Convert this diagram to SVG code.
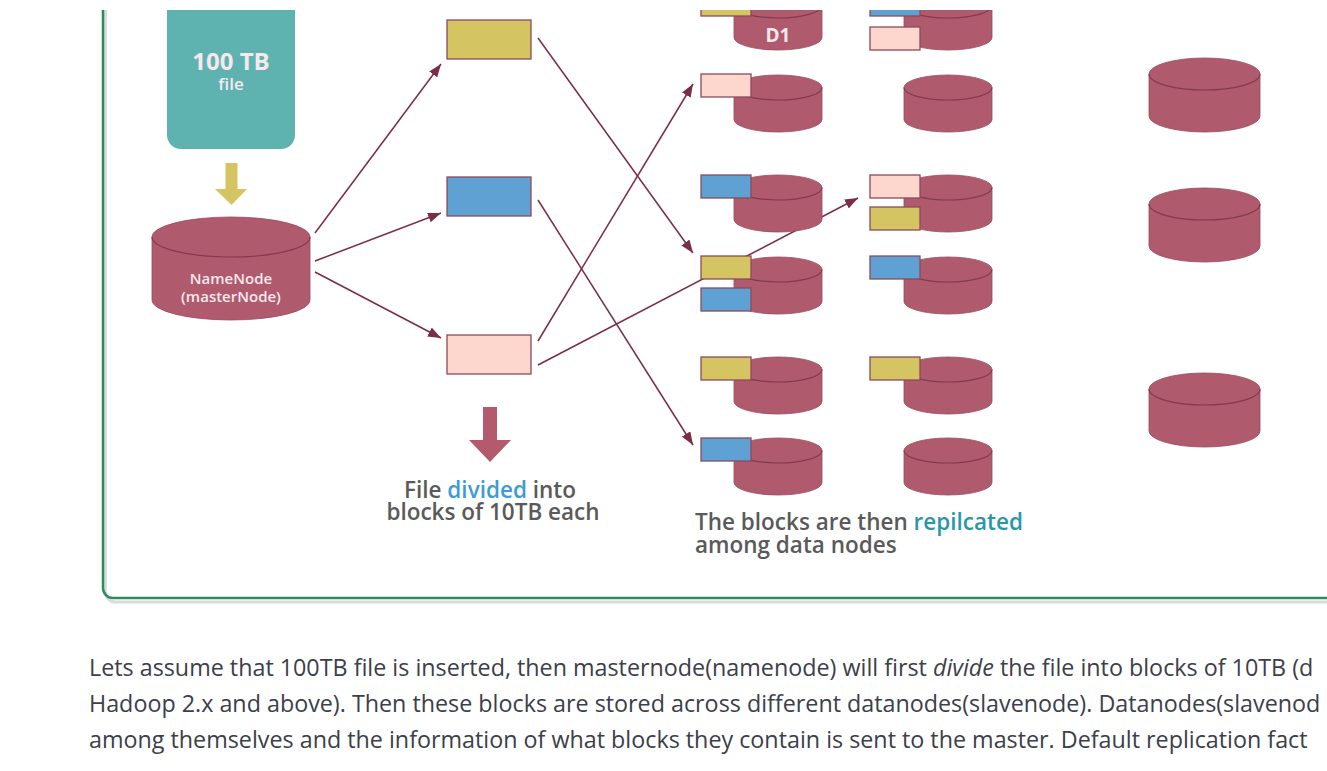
<svg xmlns="http://www.w3.org/2000/svg" width="1327" height="771" viewBox="0 0 1327 771">
<style>
.cyl{fill:#b05a6e;stroke:#9a4a5e;stroke-width:0.8}
.rim{fill:none;stroke:#843a4e;stroke-width:1.2}
.blk{stroke:#8a4b5c;stroke-width:1.3}
.y{fill:#d4c462}.b{fill:#5fa1d2}.p{fill:#fdd6cd}
.con{stroke:#7a2d45;stroke-width:1.5;fill:none;marker-end:url(#ah)}
.cap{font-family:"Open Sans","Noto Sans",sans-serif;font-size:22.5px;font-weight:600;fill:#5a5a5a}
.para{font-family:"Open Sans","Noto Sans",sans-serif;font-size:23.3px;fill:#3b404a}
.wt{font-family:"Open Sans","Noto Sans",sans-serif;fill:#f6e8ec;text-anchor:middle}
</style>
<defs>
<marker id="ah" markerUnits="userSpaceOnUse" markerWidth="13" markerHeight="10" refX="13" refY="5" orient="auto">
<path d="M0,0 L13,5 L0,10 Z" fill="#7a2d45"/>
</marker>
<g id="cylS">
<path class="cyl" d="M-44,0 A44,12.5 0 0 1 44,0 V32 A44,12.5 0 0 1 -44,32 Z"/>
<path class="rim" d="M-44,0 A44,12.5 0 0 0 44,0"/>
</g>
<g id="cylL">
<path class="cyl" d="M-55.5,0 A55.5,16 0 0 1 55.5,0 V42 A55.5,16 0 0 1 -55.5,42 Z"/>
<path class="rim" d="M-55.5,0 A55.5,16 0 0 0 55.5,0"/>
</g>
<clipPath id="clip"><rect x="0" y="10" width="1327" height="620"/></clipPath>
</defs>
<rect width="1327" height="771" fill="#ffffff"/>
<g clip-path="url(#clip)">
<g id="frame">
<rect x="105.5" y="-30" width="1300" height="632" rx="10" fill="none" stroke="#d9dcdc" stroke-width="3"/>
<rect x="103" y="-30" width="1300" height="628" rx="10" fill="none" stroke="#2e8b5c" stroke-width="2.5"/>
</g>
<g id="connectors">
<line class="con" x1="315" y1="233" x2="441" y2="64"/>
<line class="con" x1="315" y1="261" x2="441" y2="213"/>
<line class="con" x1="315" y1="272" x2="441" y2="338"/>
<line class="con" x1="538" y1="38" x2="693" y2="253"/>
<line class="con" x1="538" y1="200" x2="693" y2="445"/>
<line class="con" x1="538" y1="341" x2="693" y2="84"/>
<line class="con" x1="538" y1="365" x2="858" y2="198"/>
</g>
<g id="file">
<path d="M167,0 V135 A14,14 0 0 0 181,149 H281 A14,14 0 0 0 295,135 V0 Z" fill="#5eb3b1"/>
<text class="wt" x="231" y="70" font-size="24" font-weight="700" fill="#ffffff">100 TB</text>
<text class="wt" x="231" y="90" font-size="17" font-weight="600">file</text>
</g>
<g id="file-arrow">
<path d="M225.5,163 H237.5 V189 H247 L231.5,205 L215,189 H225.5 Z" fill="#d4c462"/>
</g>
<g id="namenode">
<path class="cyl" d="M152,237 A79,20 0 0 1 310,237 V300 A79,20 0 0 1 152,300 Z"/>
<path class="rim" d="M152,237 A79,20 0 0 0 310,237"/>
<text class="wt" x="231" y="284" font-size="15" font-weight="600">NameNode</text>
<text class="wt" x="231" y="302" font-size="15" font-weight="600">(masterNode)</text>
</g>
<g id="block-yellow"><rect class="blk y" x="447" y="20" width="84" height="39"/></g>
<g id="block-blue"><rect class="blk b" x="447" y="177" width="84" height="39"/></g>
<g id="block-pink"><rect class="blk p" x="447" y="335" width="84" height="39"/></g>
<g id="divide-arrow">
<path d="M483,407 H497 V440 H511 L490,462 L469,440 H483 Z" fill="#b45a6e"/>
</g>
<g id="D1">
<use href="#cylS" x="778" y="5.5"/>
<text class="wt" x="778" y="42" font-size="19" font-weight="700">D1</text>
<rect class="blk y" x="701" y="-7" width="50" height="23"/>
</g>
<g id="dnA1"><use href="#cylS" x="778" y="87.5"/><rect class="blk p" x="701" y="74" width="50" height="23"/></g>
<g id="dnA2"><use href="#cylS" x="778" y="187.5"/><rect class="blk b" x="701" y="175" width="50" height="23"/></g>
<g id="dnA3"><use href="#cylS" x="778" y="269.5"/><rect class="blk y" x="701" y="256" width="50" height="23"/><rect class="blk b" x="701" y="288" width="50" height="23"/></g>
<g id="dnA4"><use href="#cylS" x="778" y="369.5"/><rect class="blk y" x="701" y="357" width="50" height="23"/></g>
<g id="dnA5"><use href="#cylS" x="778" y="450.5"/><rect class="blk b" x="701" y="438" width="50" height="23"/></g>
<g id="dnB0"><use href="#cylS" x="948" y="5.5"/><rect class="blk b" x="870" y="-7" width="50" height="23"/><rect class="blk p" x="870" y="27" width="50" height="23"/></g>
<g id="dnB1"><use href="#cylS" x="948" y="87.5"/></g>
<g id="dnB2"><use href="#cylS" x="948" y="187.5"/><rect class="blk p" x="870" y="175" width="50" height="23"/><rect class="blk y" x="870" y="207" width="50" height="23"/></g>
<g id="dnB3"><use href="#cylS" x="948" y="269.5"/><rect class="blk b" x="870" y="256" width="50" height="23"/></g>
<g id="dnB4"><use href="#cylS" x="948" y="369.5"/><rect class="blk y" x="870" y="357" width="50" height="23"/></g>
<g id="dnB5"><use href="#cylS" x="948" y="450.5"/></g>
<g id="dnC1"><use href="#cylL" x="1204.5" y="74"/></g>
<g id="dnC2"><use href="#cylL" x="1204.5" y="204"/></g>
<g id="dnC3"><use href="#cylL" x="1204.5" y="389"/></g>
<g id="caption-divide">
<text class="cap" x="490" y="498" text-anchor="middle">File <tspan fill="#3e9bd6">divided</tspan> into</text>
<text class="cap" x="493" y="520" text-anchor="middle">blocks of 10TB each</text>
</g>
<g id="caption-replicate">
<text class="cap" x="695" y="530">The blocks are then <tspan fill="#2a97a8">repilcated</tspan></text>
<text class="cap" x="695" y="553">among data nodes</text>
</g>
</g>
<g id="paragraph">
<text class="para" x="89" y="676">Lets assume that 100TB file is inserted, then masternode(namenode) will first <tspan font-style="italic">divide</tspan> the file into blocks of 10TB (d</text>
<text class="para" x="89" y="712">Hadoop 2.x and above). Then these blocks are stored across different datanodes(slavenode). Datanodes(slavenod</text>
<text class="para" x="89" y="748">among themselves and the information of what blocks they contain is sent to the master. Default replication fact</text>
</g>
</svg>
